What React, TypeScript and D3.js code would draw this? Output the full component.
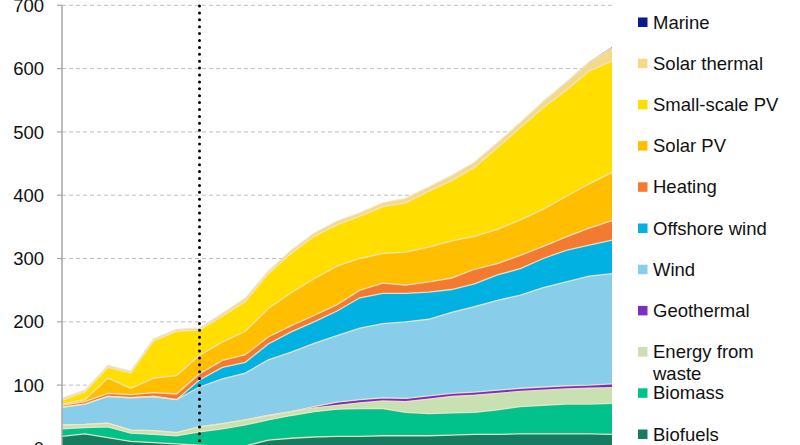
import React from 'react';
import * as d3 from 'd3';

const years = [2004, 2005, 2006, 2007, 2008, 2009, 2010, 2011, 2012, 2013, 2014, 2015, 2016,
  2017, 2018, 2019, 2020, 2021, 2022, 2023, 2024, 2025, 2026, 2027, 2028];
const projectionYear = 2010;

const biofuels = [19, 23, 17, 11, 9, 7, 5, 3, 4, 13, 16, 18, 19, 19, 20, 20, 20, 21, 22, 22, 23, 23, 23, 23, 22];
const biomass = [12, 10, 17, 13, 13, 13, 21, 28, 33, 32, 36, 40, 43, 44, 43, 37, 35, 35, 35, 39, 43, 45, 47, 47, 49];
const energyFromWaste = [6, 5, 6, 5, 6, 5, 8, 8, 8, 7, 6, 6, 6, 9, 12, 17, 23, 26, 27, 26, 24, 24, 24, 25, 25];
const geothermal = [0, 0, 0, 0, 0, 0, 0, 0, 0, 0, 0, 2, 5, 5, 5, 5, 5, 5, 5, 5, 5, 5, 5, 5, 6];
const wind = [28, 32, 42, 51, 54, 52, 63, 71, 74, 88, 94, 100, 105, 113, 117, 121, 121, 128, 135, 142, 147, 157, 164, 172, 174];
const offshoreWind = [0, 0, 0, 0, 0, 0, 11, 18, 17, 25, 32, 34, 39, 48, 48, 45, 43, 36, 36, 40, 42, 46, 50, 49, 53];
const heating = [3, 4, 5, 5, 6, 9, 10, 11, 12, 11, 10, 10, 10, 12, 16, 13, 16, 18, 23, 18, 21, 19, 21, 27, 31];
const solarPV = [2, 3, 24, 10, 23, 29, 29, 29, 37, 45, 52, 58, 61, 50, 47, 52, 55, 59, 52, 54, 56, 59, 64, 70, 76];
const smallScalePV = [6, 12, 17, 24, 59, 70, 40, 41, 47, 55, 62, 67, 65, 67, 74, 78, 88, 95, 109, 129, 146, 160, 168, 178, 176];
const solarThermal = [3, 3, 3, 3, 3, 3, 3, 4, 5, 4, 5, 5, 6, 5, 6, 7, 7, 8, 8, 8, 8, 10, 12, 14, 21];
const marine = [0, 0, 0, 0, 0, 0, 0, 0, 0, 0, 0, 0, 0, 0, 0, 0, 0, 0, 0, 0, 0, 0, 0.5, 0.5, 1];

const seriesNames = ['Biofuels', 'Biomass', 'Energy from waste', 'Geothermal', 'Wind', 'Offshore wind',
  'Heating', 'Solar PV', 'Small-scale PV', 'Solar thermal', 'Marine'];
const seriesValues = [biofuels, biomass, energyFromWaste, geothermal, wind, offshoreWind,
  heating, solarPV, smallScalePV, solarThermal, marine];
const seriesColors = ['#157C60', '#00C28A', '#C8E0B2', '#7B2FBE', '#88CEEA', '#00B1E1',
  '#F47A32', '#FFBF00', '#FFDE00', '#F4D98A', '#0B1B8F'];
const legendLines: Record<string, string[]> = { 'Energy from waste': ['Energy from', 'waste'] };

const yTicks = [0, 100, 200, 300, 400, 500, 600, 700];

export default function App() {
  const W = 800, H = 445;
  const font = '"Liberation Sans", Arial, sans-serif';
  const x = d3.scaleLinear().domain([years[0], years[years.length - 1]]).range([62, 612]);
  const y = d3.scaleLinear().domain([0, 700]).range([448.4, 5.3]);

  const table = years.map((yr, i) => {
    const row: any = { year: yr };
    seriesNames.forEach((n, k) => { row[n] = seriesValues[k][i]; });
    return row;
  });
  const stacked = d3.stack<any>().keys(seriesNames)(table);
  const area = d3.area<any>().x((d: any) => x(d.data.year)).y0((d: any) => y(d[0])).y1((d: any) => y(d[1]));
  const topLine = d3.line<any>().x((d: any) => x(d.data.year)).y((d: any) => y(d[1]));

  const legendOrder = seriesNames.map((n, k) => ({ n, c: seriesColors[k] })).reverse();

  return (
    <div style={{ position: 'fixed', left: 0, top: 0, width: W, height: H, background: '#fff' }}>
      <svg width={W} height={H} style={{ display: 'block' }} fontFamily={font}>
        <rect width={W} height={H} fill="#fff" />
        {yTicks.filter(t => t > 0).map(t => (
          <line key={'g' + t} x1={62} x2={612} y1={y(t)} y2={y(t)} stroke="#BDBDBD" strokeWidth={1} strokeDasharray="4,3" />
        ))}
        {stacked.map((s, k) => (
          <path key={'a' + k} d={area(s as any) || ''} fill={seriesColors[k]} />
        ))}
        {stacked.map((s, k) => (
          k < stacked.length - 1 ? (
            <path key={'l' + k} d={topLine(s as any) || ''} fill="none" stroke="#EFE4C6" strokeWidth={1.3} strokeOpacity={0.9} />
          ) : null
        ))}
        <line x1={x(projectionYear)} x2={x(projectionYear)} y1={6} y2={H + 5} stroke="#000" strokeWidth={3}
          strokeDasharray="0,6.9" strokeLinecap="round" />
        <line x1={62} x2={62} y1={y(700)} y2={H} stroke="#A6A6A6" strokeWidth={1.5} />
        {yTicks.map(t => (
          <g key={'t' + t}>
            <line x1={57} x2={62} y1={y(t)} y2={y(t)} stroke="#A6A6A6" strokeWidth={1.2} />
            <text x={44} y={y(t)} dy="0.36em" textAnchor="end" fontSize={18.5} fill="#111">{t}</text>
          </g>
        ))}
        {legendOrder.map((e, i) => {
          const cy = 22 + i * 41.2;
          const lines = legendLines[e.n] || [e.n];
          return (
            <g key={'lg' + i}>
              <rect x={638} y={cy - 4.5} width={9.5} height={9.5} fill={e.c} />
              {lines.map((ln, j) => (
                <text key={j} x={653} y={cy + j * 22} dy="0.36em" fontSize={18.5} fill="#111">{ln}</text>
              ))}
            </g>
          );
        })}
      </svg>
    </div>
  );
}
